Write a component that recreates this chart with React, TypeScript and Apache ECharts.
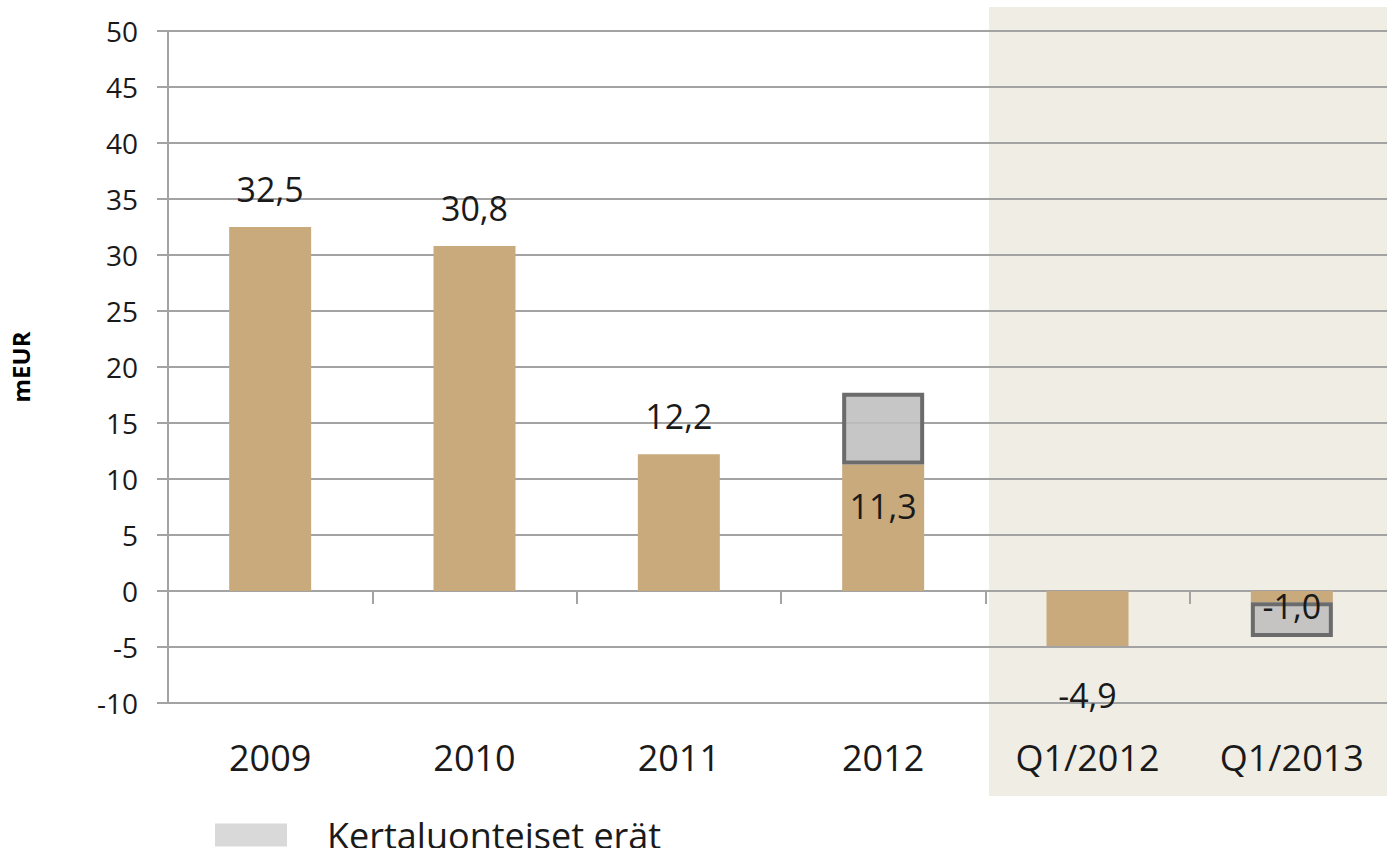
import React, { useEffect, useRef } from "react";
import * as echarts from "echarts";

const categories = ["2009", "2010", "2011", "2012", "Q1/2012", "Q1/2013"];
const operatingProfit = [32.5, 30.8, 12.2, 11.3, -4.9, -1.0];
const oneOffItems: (number | null)[] = [null, null, null, 6.4, null, -3.1];
const yTicks = { min: -10, max: 50, interval: 5 };
const legendName = "Kertaluonteiset erät";
const axisName = "mEUR";

const FONT = "'Open Sans', 'DejaVu Sans', sans-serif";
const GRID_COLOR = "#a3a3a3";
const TEXT = "#1a1a1a";

const fmt = (v: number) => v.toFixed(1).replace(".", ",");

export default function App() {
  const ref = useRef<HTMLDivElement>(null);
  useEffect(() => {
    if (!ref.current) return;
    const chart = echarts.init(ref.current, null, { renderer: "svg" });
    const labelCfg = (i: number) => {
      if (i === 3) return { position: "insideTop", distance: 25 };
      if (i === 4) return { position: "bottom", distance: 32 };
      if (i === 5) return { position: "bottom", distance: -13 };
      return { position: "top", distance: 21 };
    };
    chart.setOption({
      animation: false,
      textStyle: { fontFamily: FONT },
      grid: { left: 164, top: 31, width: 1230, height: 672 },
      graphic: [
        {
          type: "rect",
          z: -100,
          silent: true,
          shape: { x: 989, y: 7, width: 420, height: 789 },
          style: { fill: "#f0ede5" },
        },
      ],
      legend: {
        data: [legendName],
        left: 215,
        top: 817,
        icon: "rect",
        itemWidth: 72,
        itemHeight: 23,
        itemStyle: { color: "#d9d9d9", borderWidth: 0 },
        textStyle: {
          fontFamily: FONT,
          fontSize: 36,
          color: TEXT,
          padding: [0, 0, 0, 35],
        },
        padding: 0,
      },
      xAxis: [
        {
          type: "category",
          data: categories,
          axisLine: { onZero: true, lineStyle: { color: GRID_COLOR, width: 2 } },
          axisTick: { show: true, length: 13, interval: 0, lineStyle: { color: GRID_COLOR, width: 2 } },
          axisLabel: { show: false },
          splitLine: { show: false },
        },
        {
          type: "category",
          data: categories,
          position: "bottom",
          axisLine: { show: false, onZero: false },
          axisTick: { show: false },
          axisLabel: { fontFamily: FONT, fontSize: 36, color: TEXT, margin: 36, interval: 0 },
          splitLine: { show: false },
        },
      ],
      yAxis: {
        type: "value",
        min: yTicks.min,
        max: yTicks.max,
        interval: yTicks.interval,
        name: axisName,
        nameLocation: "middle",
        nameRotate: 90,
        nameGap: 136,
        nameTextStyle: { fontFamily: FONT, fontSize: 24, fontWeight: "bold", color: "#000" },
        axisLine: { show: true, lineStyle: { color: GRID_COLOR, width: 2 } },
        axisTick: { show: true, length: 11, lineStyle: { color: GRID_COLOR, width: 2 } },
        axisLabel: { fontFamily: FONT, fontSize: 28, color: TEXT, margin: 30 },
        splitLine: { show: true, lineStyle: { color: GRID_COLOR, width: 2 } },
      },
      series: [
        {
          name: "Liiketulos",
          type: "bar",
          stack: "total",
          barWidth: 82,
          xAxisIndex: 0,
          itemStyle: { color: "#c8aa7d" },
          data: operatingProfit.map((v, i) => ({
            value: v,
            label: {
              show: true,
              formatter: () => fmt(v),
              fontFamily: FONT,
              fontSize: 34,
              color: TEXT,
              ...labelCfg(i),
            },
          })),
        },
        {
          name: legendName,
          type: "bar",
          stack: "total",
          barWidth: 82,
          xAxisIndex: 0,
          itemStyle: { color: "rgba(190,190,190,0.88)", borderColor: "#6b6b6b", borderWidth: 4 },
          data: oneOffItems,
          label: { show: false },
        },
      ],
    });
    return () => chart.dispose();
  }, []);
  return (
    <div
      ref={ref}
      style={{ position: "fixed", left: 0, top: 0, width: 1410, height: 848, background: "#fff" }}
    />
  );
}
